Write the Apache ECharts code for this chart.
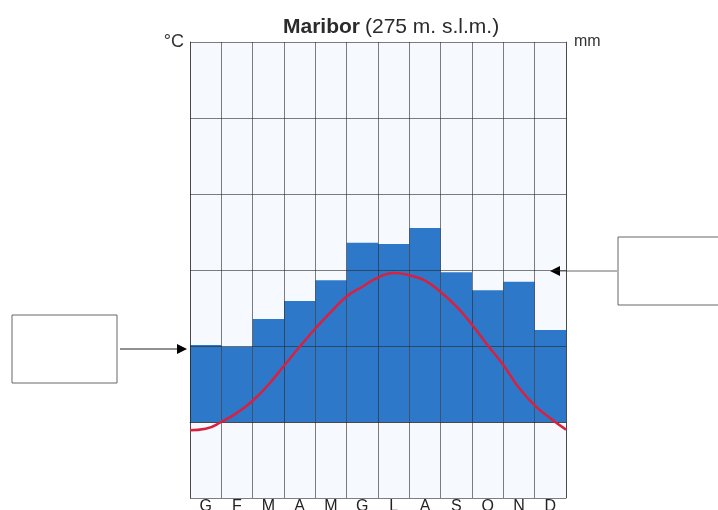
<!DOCTYPE html>
<html lang="it">
    <head>
        <meta charset="UTF-8">
        <script src="https://cdn.jsdelivr.net/npm/echarts@6/dist/echarts.min.js"></script>
        <title>Maribor</title>
        <style>
            html, body { margin: 0; padding: 0; background: #ffffff; }
        </style>
    </head>
    <body>
        <div id="chart-container" style="width: 718px; height: 510px;"></div>

        <script>
            // months (Italian initials) and monthly precipitation in mm
            const months = ['G', 'F', 'M', 'A', 'M', 'G', 'L', 'A', 'S', 'O', 'N', 'D'];
            const precipitation = [40.5, 39.6, 54.2, 63.7, 74.6, 94.4, 93.7, 102.1, 78.8, 69.3, 73.8, 48.4];

            // temperature curve every half month
            // (0 = start of Jan, 12 = end of Dec), values in °C
            const tempPos = [0, 0.5, 1, 1.5, 2, 2.5, 3, 3.5, 4, 4.5, 5, 5.5, 6,
                             6.5, 7, 7.5, 8, 8.5, 9, 9.5, 10, 10.5, 11, 11.5, 12];
            const tempValues = [-1.1, -0.9, 0.0, 1.2, 2.8, 4.9, 7.4, 9.9, 12.3, 14.5, 16.5, 17.8, 19.0,
                                19.6, 19.3, 18.6, 17.1, 15.2, 12.8, 10.1, 7.5, 4.5, 2.2, 0.5, -1.0];

            const gridLine = 'rgba(40, 40, 40, 0.6)';

            const chart = echarts.init(document.getElementById('chart-container'));
            const options = {
                animation: false,
                title: {
                    text: '{b|Maribor} {n|(275 m. s.l.m.)}',
                    left: 278,
                    top: 12,
                    textStyle: {
                        rich: {
                            b: { fontFamily: 'Liberation Sans', fontSize: 21, fontWeight: 'bold', color: '#2b2b2b' },
                            n: { fontFamily: 'Liberation Sans', fontSize: 21, fontWeight: 'normal', color: '#2b2b2b' }
                        }
                    }
                },
                grid: {
                    left: 190,
                    right: 152,
                    top: 42,
                    bottom: 12,
                    outerBoundsMode: 'none',
                    show: true,
                    backgroundColor: '#f6f9fd',
                    borderWidth: 0
                },
                xAxis: [
                    {
                        type: 'category',
                        data: months,
                        z: 5,
                        axisLine: { lineStyle: { color: gridLine, width: 1 } },
                        axisTick: { show: false },
                        axisLabel: { margin: 1, fontSize: 16, color: '#222', fontFamily: 'Liberation Sans' },
                        splitLine: { show: true, interval: 0, lineStyle: { color: gridLine, width: 1 } }
                    },
                    {
                        type: 'value',
                        min: 0,
                        max: 12,
                        show: false
                    }
                ],
                yAxis: [
                    {
                        type: 'value',
                        min: -10,
                        max: 50,
                        interval: 10,
                        z: 5,
                        name: '°C',
                        nameLocation: 'end',
                        nameGap: 0,
                        nameTextStyle: {
                            fontSize: 18, color: '#333', fontFamily: 'Liberation Sans',
                            align: 'right', verticalAlign: 'middle', padding: [0, 6, 6, 0]
                        },
                        axisLine: { show: true, lineStyle: { color: gridLine, width: 1 } },
                        axisTick: { show: false },
                        axisLabel: { show: false },
                        splitLine: { show: true, lineStyle: { color: gridLine, width: 1 } }
                    },
                    {
                        type: 'value',
                        min: -40,
                        max: 200,
                        interval: 40,
                        z: 5,
                        name: 'mm',
                        nameLocation: 'end',
                        nameGap: 0,
                        nameTextStyle: {
                            fontSize: 16, color: '#333', fontFamily: 'Liberation Sans',
                            align: 'left', verticalAlign: 'middle', padding: [0, 0, 0, 8]
                        },
                        axisLine: { show: true, lineStyle: { color: gridLine, width: 1 } },
                        axisTick: { show: false },
                        axisLabel: { show: false },
                        splitLine: { show: false }
                    }
                ],
                series: [
                    {
                        type: 'bar',
                        xAxisIndex: 0,
                        yAxisIndex: 1,
                        data: precipitation,
                        barWidth: '100%',
                        barCategoryGap: '0%',
                        itemStyle: { color: '#2e78c9' },
                        z: 2
                    },
                    {
                        type: 'line',
                        xAxisIndex: 1,
                        yAxisIndex: 0,
                        data: tempPos.map((p, i) => [p, tempValues[i]]),
                        smooth: true,
                        symbol: 'none',
                        lineStyle: { color: '#d9213f', width: 2.5 },
                        z: 10
                    }
                ],
                graphic: [
                    // left empty label box with arrow
                    { type: 'rect', shape: { x: 12, y: 315, width: 105, height: 68 }, style: { fill: '#fff', stroke: '#666', lineWidth: 1 } },
                    { type: 'line', shape: { x1: 120, y1: 349, x2: 180, y2: 349 }, style: { stroke: '#222', lineWidth: 1 } },
                    { type: 'polygon', shape: { points: [[187, 349], [177, 344], [177, 354]] }, style: { fill: '#000' } },
                    // right empty label box with arrow
                    { type: 'rect', shape: { x: 618, y: 237, width: 110, height: 68 }, style: { fill: '#fff', stroke: '#666', lineWidth: 1 } },
                    { type: 'line', shape: { x1: 617, y1: 271, x2: 557, y2: 271 }, style: { stroke: '#666', lineWidth: 1 } },
                    { type: 'polygon', shape: { points: [[550, 271], [560, 266], [560, 276]] }, style: { fill: '#000' } }
                ]
            };
            chart.setOption(options);
        </script>
    </body>
</html>
